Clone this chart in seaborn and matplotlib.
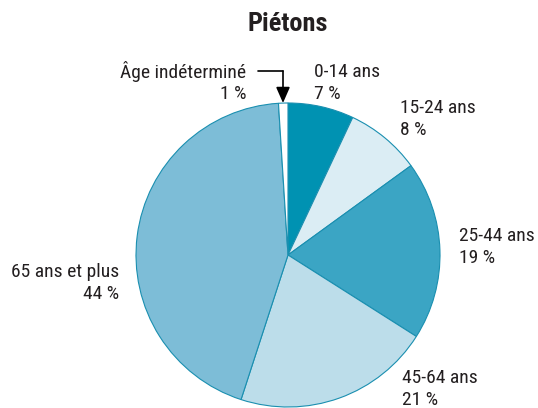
import numpy as np
import matplotlib
matplotlib.use("Agg")
import matplotlib.pyplot as plt
import seaborn as sns
import logging

# data, clockwise from 12 o'clock
groups = ["0-14 ans", "15-24 ans", "25-44 ans", "45-64 ans", "65 ans et plus", "Âge indéterminé"]
shares = [7, 8, 19, 21, 44, 1]
colors = ["#0092B2", "#DBEDF4", "#3BA5C4", "#BCDDEA", "#7DBDD7", "#FFFFFF"]

FONTS = ["Roboto Condensed", "Liberation Sans Narrow", "Roboto", "DejaVu Sans"]

sns.set_theme(style="white")
plt.rcParams["font.family"] = FONTS
logging.getLogger("matplotlib.font_manager").setLevel(logging.ERROR)

W, H = 538, 408
fig = plt.figure(figsize=(W / 100, H / 100), dpi=100)
cx, cy, r = 288, 255, 152
ax = fig.add_axes([(cx - r) / W, (H - cy - r) / H, 2 * r / W, 2 * r / H])

ax.pie(shares, colors=colors, startangle=90, counterclock=False,
       wedgeprops=dict(edgecolor="#1A8FB0", linewidth=0.8))
ax.set_xlim(-1, 1)
ax.set_ylim(-1, 1)
ax.set_aspect("equal")
ax.axis("off")


def d(px, py):
    # pixel position -> pie data coords
    return (px - cx) / r, (cy - py) / r


# label anchors in pixels: (x, y of first line, ha)
label_pos = {
    "0-14 ans": (314, 72, "left"),
    "15-24 ans": (400, 108, "left"),
    "25-44 ans": (459, 236, "left"),
    "45-64 ans": (402, 378, "left"),
    "65 ans et plus": (119, 272, "right"),
    "Âge indéterminé": (246, 72, "right"),
}
for g, s in zip(groups, shares):
    px, py, ha = label_pos[g]
    x, y = d(px, py)
    ax.text(x, y, g, ha=ha, va="center", fontsize=14, color="#231F20", clip_on=False)
    x2, y2 = d(px, py + 22)
    ax.text(x2, y2, f"{s} %", ha=ha, va="center", fontsize=14, color="#231F20", clip_on=False)

# arrow for the tiny slice
x0, y0 = d(258, 71)
x1, y1 = d(283, 71)
ax.plot([x0, x1], [y0, y1], color="black", lw=1.2, clip_on=False)
ax.annotate("", xy=d(283, 103), xytext=(x1, y1), annotation_clip=False,
            arrowprops=dict(arrowstyle="-|>,head_length=0.8,head_width=0.35",
                            color="black", lw=1.2, shrinkA=0, shrinkB=0))

fig.text(cx / W, 1 - 24 / H, "Piétons", ha="center", va="center",
         fontsize=19, fontweight="bold", color="#231F20")

plt.savefig("out.png", dpi=100)
plt.close()
